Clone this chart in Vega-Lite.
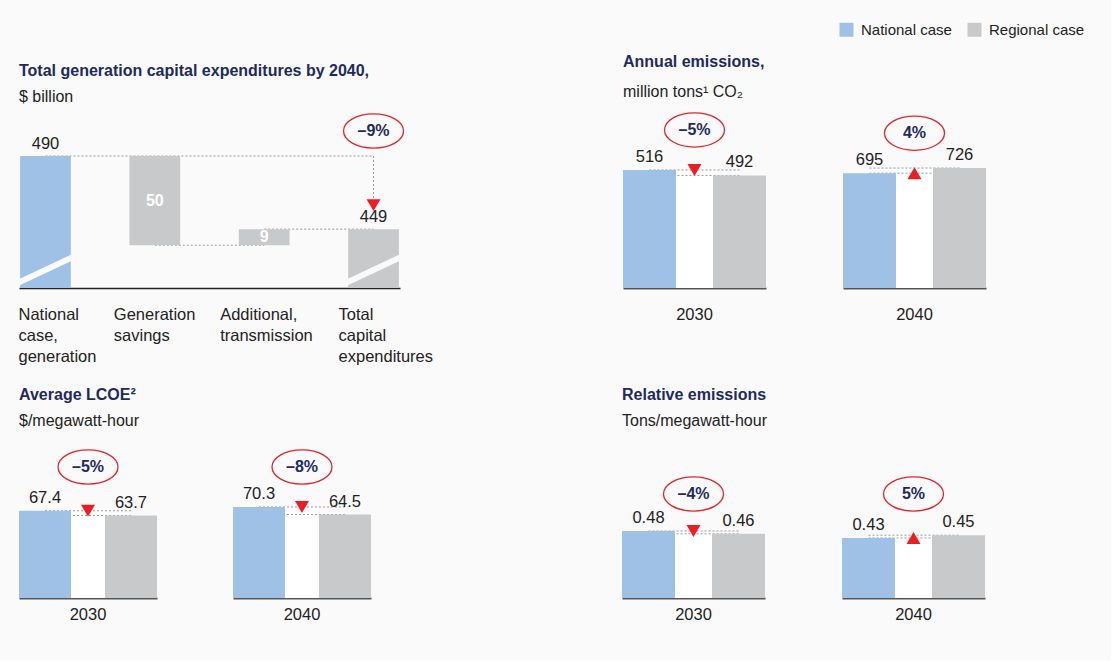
{
  "$schema": "https://vega.github.io/schema/vega-lite/v6.json",
  "background": "#fafafa",
  "padding": {"left": 15, "top": 22, "right": 26, "bottom": 36},
  "config": {
    "font": "Liberation Sans",
    "view": {"stroke": null},
    "text": {"font": "Liberation Sans", "fontSize": 16.5, "color": "#222222"},
    "title": {"anchor": "start", "frame": "group", "font": "Liberation Sans", "fontSize": 16, "fontWeight": "bold", "color": "#1e2b5c", "subtitleFont": "Liberation Sans", "subtitleFontSize": 16, "subtitleColor": "#222222", "subtitlePadding": 10},
    "header": {"labelFont": "Liberation Sans", "labelFontSize": 16.5, "labelColor": "#222222", "labelOrient": "bottom", "title": null}
  },
  "datasets": {
    "capex": [
      {"step": "National case, generation", "case": "National case", "type": "total", "start": 0, "end": 490, "label": "490"},
      {"step": "Generation savings", "case": "Change", "type": "delta", "start": 490, "end": 440, "label": "50"},
      {"step": "Additional, transmission", "case": "Change", "type": "delta", "start": 440, "end": 449, "label": "9"},
      {"step": "Total capital expenditures", "case": "Regional case", "type": "total", "start": 0, "end": 449, "label": "449"}
    ],
    "capex_links": [
      {"from": "National case, generation", "to": "Total capital expenditures", "level": 490},
      {"from": "Generation savings", "to": "Additional, transmission", "level": 440},
      {"from": "Additional, transmission", "to": "Total capital expenditures", "level": 449}
    ],
    "capex_change": [
      {"step": "Total capital expenditures", "from_value": 490, "to_value": 449, "change": "–9%"}
    ],
    "annual": [
      {"year": "2030", "National case": 516, "Regional case": 492, "change": "–5%", "direction": "down"},
      {"year": "2040", "National case": 695, "Regional case": 726, "change": "4%", "direction": "up"}
    ],
    "lcoe": [
      {"year": "2030", "National case": 67.4, "Regional case": 63.7, "change": "–5%", "direction": "down"},
      {"year": "2040", "National case": 70.3, "Regional case": 64.5, "change": "–8%", "direction": "down"}
    ],
    "relative": [
      {"year": "2030", "National case": 0.48, "Regional case": 0.46, "change": "–4%", "direction": "down"},
      {"year": "2040", "National case": 0.43, "Regional case": 0.45, "change": "5%", "direction": "up"}
    ]
  },
  "spacing": 22,
  "vconcat": [
    {
      "spacing": 190,
      "hconcat": [
        {
          "title": {"text": "Total generation capital expenditures by 2040,", "subtitle": "$ billion", "offset": 6},
          "width": 381,
          "height": 132,
          "layer": [
            {
              "data": {"name": "capex_links"},
              "mark": {"type": "rule", "strokeDash": [2, 2], "color": "#9a9a9a", "strokeWidth": 1},
              "encoding": {
                "x": {"field": "from", "type": "nominal", "title": null, "scale": {"domain": ["National case, generation", "Generation savings", "Additional, transmission", "Total capital expenditures"], "paddingInner": 0.536, "paddingOuter": 0.01}},
                "x2": {"field": "to"},
                "y": {"field": "level", "type": "quantitative", "axis": null, "scale": {"domain": [416, 490], "nice": false, "zero": false}}
              }
            },
            {
              "data": {"name": "capex_change"},
              "mark": {"type": "rule", "strokeDash": [2, 2], "color": "#9a9a9a", "strokeWidth": 1, "y2Offset": -30},
              "encoding": {
                "x": {"field": "step", "type": "nominal", "title": null},
                "y": {"field": "from_value", "type": "quantitative"},
                "y2": {"field": "to_value"}
              }
            },
            {
              "data": {"name": "capex"},
              "mark": {"type": "bar", "clip": true},
              "encoding": {
                "x": {"field": "step", "type": "nominal", "title": null, "scale": {"domain": ["National case, generation", "Generation savings", "Additional, transmission", "Total capital expenditures"]},
                  "axis": {"labelExpr": "split(datum.label, ' ')", "labelAlign": "left", "labelBaseline": "top", "labelPadding": 18, "labelFontSize": 16.5, "labelFont": "Liberation Sans", "labelColor": "#222222", "labelLineHeight": 21, "labelAngle": 0, "ticks": false, "domainColor": "#222222", "domainWidth": 1.5,
                    "labelOffset": {"condition": [
                      {"test": "datum.value == 'Generation savings'", "value": -41},
                      {"test": "datum.value == 'Additional, transmission'", "value": -44},
                      {"test": "datum.value == 'Total capital expenditures'", "value": -35}
                    ], "value": -27}}},
                "y": {"field": "end", "type": "quantitative"},
                "y2": {"field": "start"},
                "color": {"field": "case", "type": "nominal", "scale": {"domain": ["National case", "Regional case", "Change"], "range": ["#9fc1e5", "#c8c9cb", "#c8c9cb"]},
                  "legend": {"title": null, "values": ["National case", "Regional case"], "orient": "none", "legendX": 820, "legendY": -134, "direction": "horizontal", "symbolType": "square", "symbolSize": 196, "symbolStrokeWidth": 0, "labelFontSize": 15, "labelFont": "Liberation Sans", "labelColor": "#222222", "labelOffset": 7, "columnPadding": 15}}
              }
            },
            {
              "data": {"name": "capex"},
              "transform": [{"filter": "datum.type == 'total'"}],
              "mark": {"type": "rule", "color": "#fafafa", "strokeWidth": 6, "xOffset": -27, "x2Offset": 30},
              "encoding": {
                "x": {"field": "step", "type": "nominal", "title": null},
                "x2": {"field": "step"},
                "y": {"datum": 419},
                "y2": {"datum": 434}
              }
            },
            {
              "data": {"name": "capex"},
              "transform": [{"filter": "datum.type == 'total'"}],
              "mark": {"type": "text", "baseline": "bottom", "dy": -4, "fontSize": 16.5},
              "encoding": {
                "x": {"field": "step", "type": "nominal", "title": null},
                "y": {"field": "end", "type": "quantitative"},
                "text": {"field": "label"}
              }
            },
            {
              "data": {"name": "capex"},
              "transform": [
                {"filter": "datum.type == 'delta'"},
                {"fold": ["start", "end"], "as": ["bound", "v"]},
                {"aggregate": [{"op": "mean", "field": "v", "as": "mid"}], "groupby": ["step", "label"]}
              ],
              "mark": {"type": "text", "baseline": "middle", "fontWeight": "bold", "color": "white", "fontSize": 16},
              "encoding": {
                "x": {"field": "step", "type": "nominal", "title": null},
                "y": {"field": "mid", "type": "quantitative"},
                "text": {"field": "label"}
              }
            },
            {
              "data": {"name": "capex_change"},
              "mark": {"type": "point", "shape": "M-1,-0.85L1,-0.85L0,0.85Z", "size": 196, "filled": true, "color": "#ee1d24", "opacity": 1, "yOffset": -24},
              "encoding": {
                "x": {"field": "step", "type": "nominal", "title": null},
                "y": {"field": "to_value", "type": "quantitative"}
              }
            },
            {
              "data": {"name": "capex_change"},
              "mark": {"type": "point", "shape": "M-1,0A1,0.57,0,1,1,1,0A1,0.57,0,1,1,-1,0Z", "size": 3600, "fill": "#fafafa", "stroke": "#e3262b", "strokeWidth": 1.3, "opacity": 1, "yOffset": -25},
              "encoding": {
                "x": {"field": "step", "type": "nominal", "title": null},
                "y": {"field": "from_value", "type": "quantitative"}
              }
            },
            {
              "data": {"name": "capex_change"},
              "mark": {"type": "text", "baseline": "middle", "fontWeight": "bold", "color": "#1e2b5c", "fontSize": 16, "yOffset": -25},
              "encoding": {
                "x": {"field": "step", "type": "nominal", "title": null},
                "y": {"field": "from_value", "type": "quantitative"},
                "text": {"field": "change"}
              }
            }
          ]
        },
        {
          "title": {"text": "Annual emissions,", "subtitle": "million tons¹ CO₂", "offset": 10, "subtitlePadding": 14},
          "spacing": 77,
          "hconcat": [
            {
              "data": {"name": "annual"},
              "transform": [{"filter": "datum.year == '2030'"}],
              "facet": {"column": {"field": "year", "type": "ordinal", "title": null, "header": {"labelOrient": "bottom", "labelPadding": 19}}},
              "spec": {
                "width": 143,
                "height": 132,
                "layer": [
                  {"mark": {"type": "bar", "color": "white", "width": 37, "xOffset": 45},
                   "encoding": {"x": {"datum": "National case", "type": "nominal", "title": null, "scale": {"domain": ["National case", "Regional case"], "paddingInner": 0.411, "paddingOuter": 0}, "axis": {"labels": false, "ticks": false, "title": null, "domainColor": "#555555", "domainWidth": 2}},
                                "y": {"field": "National case", "type": "quantitative", "axis": null, "scale": {"domain": [0, 577], "nice": false, "zero": true}}}},
                  {"mark": {"type": "bar", "color": "white", "width": 37, "xOffset": 45},
                   "encoding": {"x": {"datum": "National case", "type": "nominal"}, "y": {"field": "Regional case", "type": "quantitative"}}},
                  {"mark": {"type": "rule", "strokeDash": [2, 2], "color": "#9a9a9a", "strokeWidth": 1},
                   "encoding": {"x": {"datum": "National case", "type": "nominal"}, "x2": {"datum": "Regional case"}, "y": {"field": "National case", "type": "quantitative"}}},
                  {"mark": {"type": "rule", "strokeDash": [2, 2], "color": "#9a9a9a", "strokeWidth": 1},
                   "encoding": {"x": {"datum": "National case", "type": "nominal"}, "x2": {"datum": "Regional case"}, "y": {"field": "Regional case", "type": "quantitative"}}},
                  {"transform": [{"fold": ["National case", "Regional case"], "as": ["case", "value"]}],
                   "mark": {"type": "bar"},
                   "encoding": {"x": {"field": "case", "type": "nominal", "title": null},
                                "y": {"field": "value", "type": "quantitative"},
                                "color": {"field": "case", "type": "nominal", "scale": {"domain": ["National case", "Regional case", "Change"], "range": ["#9fc1e5", "#c8c9cb", "#c8c9cb"]},
                                  "legend": {"title": null, "values": ["National case", "Regional case"], "orient": "none", "legendX": 820, "legendY": -134, "direction": "horizontal", "symbolType": "square", "symbolSize": 196, "symbolStrokeWidth": 0, "labelFontSize": 15, "labelFont": "Liberation Sans", "labelColor": "#222222", "labelOffset": 7, "columnPadding": 15}}}},
                  {"transform": [{"fold": ["National case", "Regional case"], "as": ["case", "value"]}],
                   "mark": {"type": "text", "baseline": "bottom", "dy": -5, "fontSize": 16.5},
                   "encoding": {"x": {"field": "case", "type": "nominal", "title": null}, "y": {"field": "value", "type": "quantitative"}, "text": {"field": "value", "type": "quantitative", "format": "~g"}}},
                  {"mark": {"type": "point", "size": 196, "filled": true, "color": "#ee1d24", "opacity": 1, "xOffset": 45},
                   "encoding": {"x": {"datum": "National case", "type": "nominal"}, "y": {"field": "National case", "type": "quantitative"},
                                "shape": {"field": "direction", "type": "nominal", "scale": {"domain": ["down", "up"], "range": ["M-1,-0.85L1,-0.85L0,0.85Z", "M-1,0.85L1,0.85L0,-0.85Z"]}, "legend": null}}},
                  {"mark": {"type": "point", "shape": "M-1,0A1,0.57,0,1,1,1,0A1,0.57,0,1,1,-1,0Z", "size": 3600, "fill": "#fafafa", "stroke": "#e3262b", "strokeWidth": 1.3, "opacity": 1, "xOffset": 45, "yOffset": -40},
                   "encoding": {"x": {"datum": "National case", "type": "nominal"}, "y": {"field": "National case", "type": "quantitative"}}},
                  {"mark": {"type": "text", "baseline": "middle", "fontWeight": "bold", "color": "#1e2b5c", "fontSize": 16, "xOffset": 45, "yOffset": -40},
                   "encoding": {"x": {"datum": "National case", "type": "nominal"}, "y": {"field": "National case", "type": "quantitative"}, "text": {"field": "change"}}}
                ]
              }
            },
            {
              "data": {"name": "annual"},
              "transform": [{"filter": "datum.year == '2040'"}],
              "facet": {"column": {"field": "year", "type": "ordinal", "title": null, "header": {"labelOrient": "bottom", "labelPadding": 19}}},
              "spec": {
                "width": 143,
                "height": 132,
                "layer": [
                  {"mark": {"type": "bar", "color": "white", "width": 37, "xOffset": 45},
                   "encoding": {"x": {"datum": "National case", "type": "nominal", "title": null, "scale": {"domain": ["National case", "Regional case"], "paddingInner": 0.411, "paddingOuter": 0}, "axis": {"labels": false, "ticks": false, "title": null, "domainColor": "#555555", "domainWidth": 2}},
                                "y": {"field": "National case", "type": "quantitative", "axis": null, "scale": {"domain": [0, 799], "nice": false, "zero": true}}}},
                  {"mark": {"type": "bar", "color": "white", "width": 37, "xOffset": 45},
                   "encoding": {"x": {"datum": "National case", "type": "nominal"}, "y": {"field": "Regional case", "type": "quantitative"}}},
                  {"mark": {"type": "rule", "strokeDash": [2, 2], "color": "#9a9a9a", "strokeWidth": 1},
                   "encoding": {"x": {"datum": "National case", "type": "nominal"}, "x2": {"datum": "Regional case"}, "y": {"field": "National case", "type": "quantitative"}}},
                  {"mark": {"type": "rule", "strokeDash": [2, 2], "color": "#9a9a9a", "strokeWidth": 1},
                   "encoding": {"x": {"datum": "National case", "type": "nominal"}, "x2": {"datum": "Regional case"}, "y": {"field": "Regional case", "type": "quantitative"}}},
                  {"transform": [{"fold": ["National case", "Regional case"], "as": ["case", "value"]}],
                   "mark": {"type": "bar"},
                   "encoding": {"x": {"field": "case", "type": "nominal", "title": null},
                                "y": {"field": "value", "type": "quantitative"},
                                "color": {"field": "case", "type": "nominal", "scale": {"domain": ["National case", "Regional case", "Change"], "range": ["#9fc1e5", "#c8c9cb", "#c8c9cb"]},
                                  "legend": {"title": null, "values": ["National case", "Regional case"], "orient": "none", "legendX": 820, "legendY": -134, "direction": "horizontal", "symbolType": "square", "symbolSize": 196, "symbolStrokeWidth": 0, "labelFontSize": 15, "labelFont": "Liberation Sans", "labelColor": "#222222", "labelOffset": 7, "columnPadding": 15}}}},
                  {"transform": [{"fold": ["National case", "Regional case"], "as": ["case", "value"]}],
                   "mark": {"type": "text", "baseline": "bottom", "dy": -5, "fontSize": 16.5},
                   "encoding": {"x": {"field": "case", "type": "nominal", "title": null}, "y": {"field": "value", "type": "quantitative"}, "text": {"field": "value", "type": "quantitative", "format": "~g"}}},
                  {"mark": {"type": "point", "size": 196, "filled": true, "color": "#ee1d24", "opacity": 1, "xOffset": 45},
                   "encoding": {"x": {"datum": "National case", "type": "nominal"}, "y": {"field": "National case", "type": "quantitative"},
                                "shape": {"field": "direction", "type": "nominal", "scale": {"domain": ["down", "up"], "range": ["M-1,-0.85L1,-0.85L0,0.85Z", "M-1,0.85L1,0.85L0,-0.85Z"]}, "legend": null}}},
                  {"mark": {"type": "point", "shape": "M-1,0A1,0.57,0,1,1,1,0A1,0.57,0,1,1,-1,0Z", "size": 3600, "fill": "#fafafa", "stroke": "#e3262b", "strokeWidth": 1.3, "opacity": 1, "xOffset": 45, "yOffset": -40},
                   "encoding": {"x": {"datum": "National case", "type": "nominal"}, "y": {"field": "National case", "type": "quantitative"}}},
                  {"mark": {"type": "text", "baseline": "middle", "fontWeight": "bold", "color": "#1e2b5c", "fontSize": 16, "xOffset": 45, "yOffset": -40},
                   "encoding": {"x": {"datum": "National case", "type": "nominal"}, "y": {"field": "National case", "type": "quantitative"}, "text": {"field": "change"}}}
                ]
              }
            }
          ]
        }
      ]
    },
    {
      "spacing": 251,
      "hconcat": [
        {
          "title": {"text": "Average LCOE²", "subtitle": "$/megawatt-hour", "offset": 18},
          "data": {"name": "lcoe"},
          "transform": [{"joinaggregate": [{"op": "max", "field": "National case", "as": "panel_top"}]}],
          "facet": {"column": {"field": "year", "type": "ordinal", "title": null, "header": {"labelOrient": "bottom", "labelPadding": 9}}},
          "spacing": 76,
          "spec": {
            "width": 138,
            "height": 91,
            "layer": [
              {"mark": {"type": "bar", "color": "white", "width": 34, "xOffset": 43},
               "encoding": {"x": {"datum": "National case", "type": "nominal", "title": null, "scale": {"domain": ["National case", "Regional case"], "paddingInner": 0.395, "paddingOuter": 0}, "axis": {"labels": false, "ticks": false, "title": null, "domainColor": "#555555", "domainWidth": 2}},
                            "y": {"field": "National case", "type": "quantitative", "axis": null, "scale": {"nice": false, "zero": true}}}},
              {"mark": {"type": "bar", "color": "white", "width": 34, "xOffset": 43},
               "encoding": {"x": {"datum": "National case", "type": "nominal"}, "y": {"field": "Regional case", "type": "quantitative"}}},
              {"mark": {"type": "rule", "strokeDash": [2, 2], "color": "#9a9a9a", "strokeWidth": 1},
               "encoding": {"x": {"datum": "National case", "type": "nominal"}, "x2": {"datum": "Regional case"}, "y": {"field": "National case", "type": "quantitative"}}},
              {"mark": {"type": "rule", "strokeDash": [2, 2], "color": "#9a9a9a", "strokeWidth": 1},
               "encoding": {"x": {"datum": "National case", "type": "nominal"}, "x2": {"datum": "Regional case"}, "y": {"field": "Regional case", "type": "quantitative"}}},
              {"transform": [{"fold": ["National case", "Regional case"], "as": ["case", "value"]}],
               "mark": {"type": "bar"},
               "encoding": {"x": {"field": "case", "type": "nominal", "title": null},
                            "y": {"field": "value", "type": "quantitative"},
                            "color": {"field": "case", "type": "nominal", "scale": {"domain": ["National case", "Regional case", "Change"], "range": ["#9fc1e5", "#c8c9cb", "#c8c9cb"]},
                              "legend": {"title": null, "values": ["National case", "Regional case"], "orient": "none", "legendX": 820, "legendY": -134, "direction": "horizontal", "symbolType": "square", "symbolSize": 196, "symbolStrokeWidth": 0, "labelFontSize": 15, "labelFont": "Liberation Sans", "labelColor": "#222222", "labelOffset": 7, "columnPadding": 15}}}},
              {"transform": [{"fold": ["National case", "Regional case"], "as": ["case", "value"]}],
               "mark": {"type": "text", "baseline": "bottom", "dy": -5, "fontSize": 16.5},
               "encoding": {"x": {"field": "case", "type": "nominal", "title": null}, "y": {"field": "value", "type": "quantitative"}, "text": {"field": "value", "type": "quantitative", "format": "~g"}}},
              {"mark": {"type": "point", "size": 196, "filled": true, "color": "#ee1d24", "opacity": 1, "xOffset": 43},
               "encoding": {"x": {"datum": "National case", "type": "nominal"}, "y": {"field": "National case", "type": "quantitative"},
                            "shape": {"field": "direction", "type": "nominal", "scale": {"domain": ["down", "up"], "range": ["M-1,-0.85L1,-0.85L0,0.85Z", "M-1,0.85L1,0.85L0,-0.85Z"]}, "legend": null}}},
              {"mark": {"type": "point", "shape": "M-1,0A1,0.57,0,1,1,1,0A1,0.57,0,1,1,-1,0Z", "size": 3600, "fill": "#fafafa", "stroke": "#e3262b", "strokeWidth": 1.3, "opacity": 1, "xOffset": 43, "yOffset": -40},
               "encoding": {"x": {"datum": "National case", "type": "nominal"}, "y": {"field": "panel_top", "type": "quantitative"}}},
              {"mark": {"type": "text", "baseline": "middle", "fontWeight": "bold", "color": "#1e2b5c", "fontSize": 16, "xOffset": 43, "yOffset": -40},
               "encoding": {"x": {"datum": "National case", "type": "nominal"}, "y": {"field": "panel_top", "type": "quantitative"}, "text": {"field": "change"}}}
            ]
          }
        },
        {
          "title": {"text": "Relative emissions", "subtitle": "Tons/megawatt-hour", "offset": 45},
          "data": {"name": "relative"},
          "transform": [{"joinaggregate": [{"op": "max", "field": "National case", "as": "panel_top"}]}],
          "facet": {"column": {"field": "year", "type": "ordinal", "title": null, "header": {"labelOrient": "bottom", "labelPadding": 9}}},
          "spacing": 77,
          "spec": {
            "width": 143,
            "height": 91,
            "layer": [
              {"mark": {"type": "bar", "color": "white", "width": 37, "xOffset": 45},
               "encoding": {"x": {"datum": "National case", "type": "nominal", "title": null, "scale": {"domain": ["National case", "Regional case"], "paddingInner": 0.411, "paddingOuter": 0}, "axis": {"labels": false, "ticks": false, "title": null, "domainColor": "#555555", "domainWidth": 2}},
                            "y": {"field": "National case", "type": "quantitative", "axis": null, "scale": {"domain": [0, 0.652], "nice": false, "zero": true}}}},
              {"mark": {"type": "bar", "color": "white", "width": 37, "xOffset": 45},
               "encoding": {"x": {"datum": "National case", "type": "nominal"}, "y": {"field": "Regional case", "type": "quantitative"}}},
              {"mark": {"type": "rule", "strokeDash": [2, 2], "color": "#9a9a9a", "strokeWidth": 1},
               "encoding": {"x": {"datum": "National case", "type": "nominal"}, "x2": {"datum": "Regional case"}, "y": {"field": "National case", "type": "quantitative"}}},
              {"mark": {"type": "rule", "strokeDash": [2, 2], "color": "#9a9a9a", "strokeWidth": 1},
               "encoding": {"x": {"datum": "National case", "type": "nominal"}, "x2": {"datum": "Regional case"}, "y": {"field": "Regional case", "type": "quantitative"}}},
              {"transform": [{"fold": ["National case", "Regional case"], "as": ["case", "value"]}],
               "mark": {"type": "bar"},
               "encoding": {"x": {"field": "case", "type": "nominal", "title": null},
                            "y": {"field": "value", "type": "quantitative"},
                            "color": {"field": "case", "type": "nominal", "scale": {"domain": ["National case", "Regional case", "Change"], "range": ["#9fc1e5", "#c8c9cb", "#c8c9cb"]},
                              "legend": {"title": null, "values": ["National case", "Regional case"], "orient": "none", "legendX": 820, "legendY": -134, "direction": "horizontal", "symbolType": "square", "symbolSize": 196, "symbolStrokeWidth": 0, "labelFontSize": 15, "labelFont": "Liberation Sans", "labelColor": "#222222", "labelOffset": 7, "columnPadding": 15}}}},
              {"transform": [{"fold": ["National case", "Regional case"], "as": ["case", "value"]}],
               "mark": {"type": "text", "baseline": "bottom", "dy": -5, "fontSize": 16.5},
               "encoding": {"x": {"field": "case", "type": "nominal", "title": null}, "y": {"field": "value", "type": "quantitative"}, "text": {"field": "value", "type": "quantitative", "format": "~g"}}},
              {"mark": {"type": "point", "size": 196, "filled": true, "color": "#ee1d24", "opacity": 1, "xOffset": 45},
               "encoding": {"x": {"datum": "National case", "type": "nominal"}, "y": {"field": "National case", "type": "quantitative"},
                            "shape": {"field": "direction", "type": "nominal", "scale": {"domain": ["down", "up"], "range": ["M-1,-0.85L1,-0.85L0,0.85Z", "M-1,0.85L1,0.85L0,-0.85Z"]}, "legend": null}}},
              {"mark": {"type": "point", "shape": "M-1,0A1,0.57,0,1,1,1,0A1,0.57,0,1,1,-1,0Z", "size": 3600, "fill": "#fafafa", "stroke": "#e3262b", "strokeWidth": 1.3, "opacity": 1, "xOffset": 45, "yOffset": -37},
               "encoding": {"x": {"datum": "National case", "type": "nominal"}, "y": {"field": "panel_top", "type": "quantitative"}}},
              {"mark": {"type": "text", "baseline": "middle", "fontWeight": "bold", "color": "#1e2b5c", "fontSize": 16, "xOffset": 45, "yOffset": -37},
               "encoding": {"x": {"datum": "National case", "type": "nominal"}, "y": {"field": "panel_top", "type": "quantitative"}, "text": {"field": "change"}}}
            ]
          }
        }
      ]
    }
  ]
}
